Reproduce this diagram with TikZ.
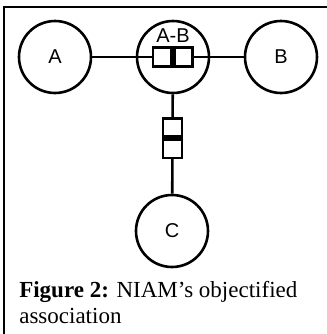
\documentclass[tikz,border=0pt]{standalone}
\usepackage{fontspec}
\setmainfont{Liberation Serif}
\newfontfamily\labelfont{Liberation Sans}
\usetikzlibrary{positioning}

\begin{document}
\begin{tikzpicture}[x=0.5pt, y=-0.5pt, line width=1.3pt,
    objtype/.style={draw, circle, minimum size=36pt, inner sep=0pt, font=\labelfont\fontsize{10}{11}\selectfont},
    role/.style={draw, rectangle, minimum width=9.25pt, minimum height=9.5pt, inner sep=0pt}]
  \useasboundingbox (0,0) rectangle (327,334);
  % frame
  \draw (4,334) -- (4,7) -- (327,7);

  \node[objtype] (a) at (55,57) {A};
  \node[objtype] (ab) at (173,57) {};
  \node[objtype] (b) at (281,57) {B};
  \node[objtype] (c) at (172,231) {C};

  % roles of the objectified association
  \node[role, anchor=east] (rolel) at (173,57) {};
  \node[role, anchor=west] (roler) at (173,57) {};
  \node[font=\labelfont\fontsize{10}{11}\selectfont, inner sep=1pt, above=0pt of rolel.north east] (ablabel) {A-B};

  \node[role, minimum width=9.5pt, minimum height=9.25pt, anchor=south] (roleu) at (172.5,138) {};
  \node[role, minimum width=9.5pt, minimum height=9.25pt, anchor=north] (roled) at (172.5,138) {};

  \draw (a) -- (rolel);
  \draw (roler) -- (b);
  \draw (ab) -- (roleu);
  \draw (roled) -- (c);

  \node[anchor=north west, align=left, inner sep=0pt, font=\fontsize{11.5}{13}\selectfont] (caption) at (18,280)
    {\textbf{Figure 2:} NIAM’s objectified\\association};
\end{tikzpicture}
\end{document}
